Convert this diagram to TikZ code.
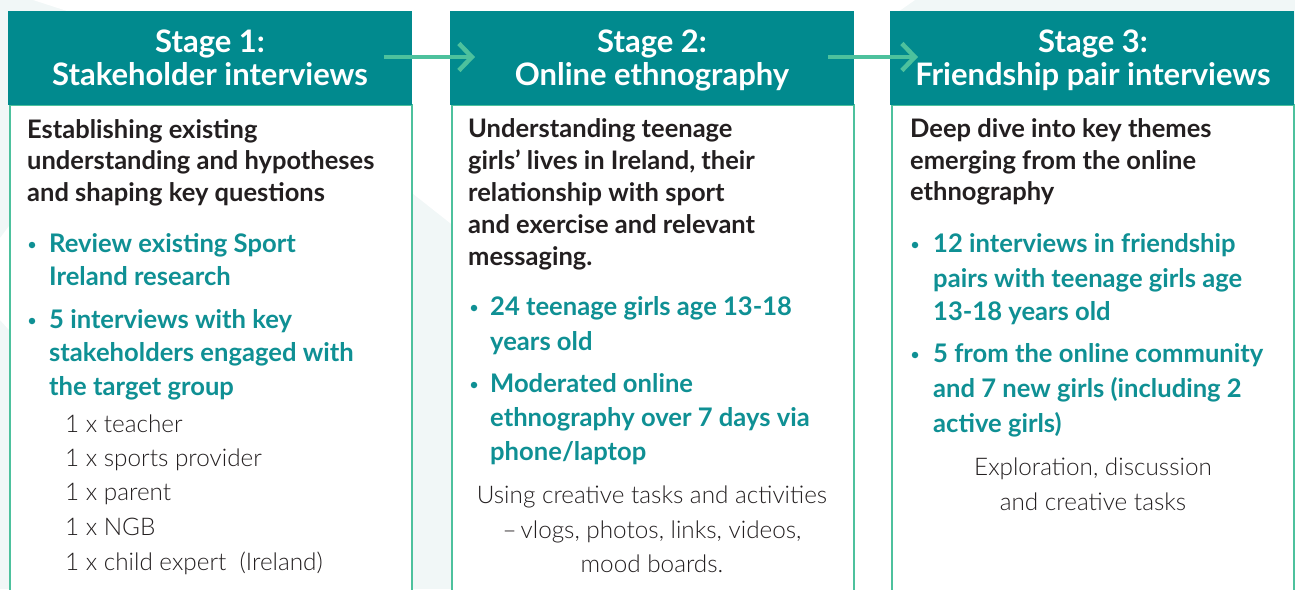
\documentclass[tikz,border=0pt]{standalone}
\usepackage{fontspec}
\setmainfont{Lato}
\newfontfamily\lightfont{Lato Light}
\usetikzlibrary{arrows.meta}
\definecolor{teal1}{HTML}{018A8E}
\definecolor{teal2}{HTML}{0F9094}
\definecolor{mint}{HTML}{4DC19D}
\definecolor{bg}{HTML}{F1F7F7}
\definecolor{ink}{HTML}{231F20}
\begin{document}
\begin{tikzpicture}[x=1pt,y=-1pt,
  hdr/.style={font=\bfseries\fontsize{31}{36}\selectfont, text=white, inner sep=0pt, anchor=base},
  lead/.style={font=\bfseries\fontsize{25.5}{30}\selectfont, text=ink, inner sep=0pt, anchor=base west},
  bul/.style={font=\bfseries\fontsize{25.6}{30}\selectfont, text=teal2, inner sep=0pt, anchor=base west},
  lite/.style={font=\lightfont\fontsize{24.3}{30}\selectfont, text=ink, inner sep=0pt},
  dot/.style={circle, fill=teal2, inner sep=0pt, minimum size=6.5pt},
  head/.style={fill=teal1, inner sep=0pt, minimum width=404pt, minimum height=94pt, anchor=north west},
  body/.style={fill=white, draw=mint, line width=2.3pt, inner sep=0pt, minimum width=401.7pt, minimum height=500pt, anchor=north west},
  arr/.style={draw=mint, line width=4.5pt, -{Straight Barb[length=13pt,width=27pt]}}
]
\clip (0,0) rectangle (1295,589);
% background
\fill[bg] (0,0) rectangle (1295,589);
\fill[white] (33,0) -- (67,11) -- (412,193) -- (450,223) -- (852,540) -- (852,589) -- (895,589) -- (895,14) -- (915,0) -- cycle;
\fill[white] (0,238) -- (9,226) -- (9,330) -- (0,320) -- cycle;

% boxes
\node[body] (b1) at (9.15,104) {};
\node[body] (b2) at (451.15,104) {};
\node[body] (b3) at (891.15,104) {};
\node[head] (h1) at (8,11) {};
\node[head] (h2) at (450,11) {};
\node[head] (h3) at (890,11) {};

% headers
\node[hdr] (t1a) at (210,52) {Stage 1:};
\node[hdr] (t1b) at (210,85) {Stakeholder interviews};
\node[hdr] (t2a) at (652,52) {Stage 2:};
\node[hdr] (t2b) at (652,85) {Online ethnography};
\node[hdr] (t3a) at (1093,52) {Stage 3:};
\node[hdr] (t3b) at (1093,85) {Friendship pair interviews};

% arrows
\coordinate (a1s) at (384,57);
\coordinate (a1e) at (475,57);
\coordinate (a2s) at (828,57);
\coordinate (a2e) at (918,57);
\draw[arr] (a1s) -- (a1e);
\draw[arr] (a2s) -- (a2e);

% stage 1
\node[lead] (p1a) at (27,138) {Establishing existing};
\node[lead] (p1b) at (27,169.5) {understanding and hypotheses};
\node[lead] (p1c) at (27,201) {and shaping key questions};
\node[dot] (d1a) at (32,245) {};
\node[bul] (q1a) at (49,252) {Review existing Sport};
\node[bul] (q1b) at (49,285.5) {Ireland research};
\node[dot] (d1b) at (32,321) {};
\node[bul] (q1c) at (49,328) {5 interviews with key};
\node[bul] (q1d) at (49,361.5) {stakeholders engaged with};
\node[bul] (q1e) at (49,395) {the target group};
\node[lite, anchor=base west] (r1a) at (65,432) {1 x teacher};
\node[lite, anchor=base west] (r1b) at (65,466) {1 x sports provider};
\node[lite, anchor=base west] (r1c) at (65,500) {1 x parent};
\node[lite, anchor=base west] (r1d) at (65,535) {1 x NGB};
\node[lite, anchor=base west] (r1e) at (65,570) {1 x child expert\ \ (Ireland)};

% stage 2
\node[lead] (p2a) at (468,137) {Understanding teenage};
\node[lead] (p2b) at (468,169) {girls’ lives in Ireland, their};
\node[lead] (p2c) at (468,201) {relationship with sport};
\node[lead] (p2d) at (468,233) {and exercise and relevant};
\node[lead] (p2e) at (468,265) {messaging.};
\node[dot] (d2a) at (474,308) {};
\node[bul] (q2a) at (490,315) {24 teenage girls age 13-18};
\node[bul] (q2b) at (490,350) {years old};
\node[dot] (d2b) at (474,385) {};
\node[bul] (q2c) at (490,392) {Moderated online};
\node[bul] (q2d) at (490,426) {ethnography over 7 days via};
\node[bul] (q2e) at (490,460) {phone/laptop};
\node[lite, anchor=base] (r2a) at (652,503) {Using creative tasks and activities};
\node[lite, anchor=base] (r2b) at (652,538) {–\,vlogs, photos, links, videos,};
\node[lite, anchor=base] (r2c) at (652,572) {mood boards.};

% stage 3
\node[lead] (p3a) at (910,137) {Deep dive into key themes};
\node[lead] (p3b) at (910,169) {emerging from the online};
\node[lead] (p3c) at (910,200) {ethnography};
\node[dot] (d3a) at (915,245) {};
\node[bul] (q3a) at (933,252) {12 interviews in friendship};
\node[bul] (q3b) at (933,287) {pairs with teenage girls age};
\node[bul] (q3c) at (933,320) {13-18 years old};
\node[dot] (d3b) at (915,355) {};
\node[bul] (q3d) at (933,362) {5 from the online community};
\node[bul] (q3e) at (933,397) {and 7 new girls (including 2};
\node[bul] (q3f) at (933,432) {active girls)};
\node[lite, anchor=base] (r3a) at (1093,475) {Exploration, discussion};
\node[lite, anchor=base] (r3b) at (1093,510) {and creative tasks};
\end{tikzpicture}
\end{document}
